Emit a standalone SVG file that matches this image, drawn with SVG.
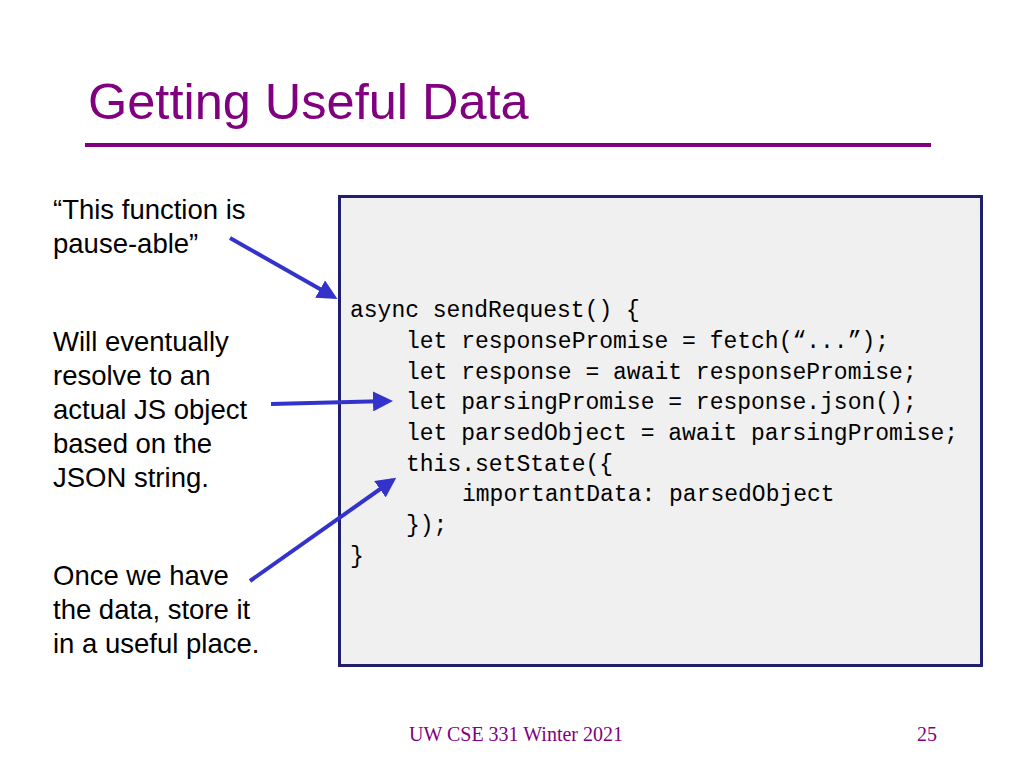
<svg xmlns="http://www.w3.org/2000/svg" width="1024" height="768" viewBox="0 0 1024 768">
<defs>
<marker id="ah" markerWidth="5" markerHeight="5" refX="4" refY="2.5" orient="auto" markerUnits="strokeWidth"><path d="M0,0 L5,2.5 L0,5 z" fill="#3333cc"/></marker>
<style>
.note{font-family:"Liberation Sans",Arial,sans-serif;font-size:27.5px;fill:#000}
.code{font-family:"Liberation Mono","DejaVu Sans Mono",monospace;font-size:23px;fill:#000}
.arr{stroke:#3333cc;stroke-width:4;fill:none;marker-end:url(#ah)}
</style>
</defs>
<rect width="1024" height="768" fill="#fff"/>
<text x="88" y="119" font-family="Liberation Sans,Arial,sans-serif" font-size="50.5" fill="#800080">Getting Useful Data</text>
<rect x="85" y="143" width="846" height="4" fill="#800080"/>
<g id="codebox">
<rect x="339.5" y="196.5" width="642" height="469" fill="#f0f0f0" stroke="#1f1f6e" stroke-width="3"/>
<text class="code" x="350" y="317">async sendRequest() {</text>
<text class="code" x="406" y="348">let responsePromise = fetch(“...”);</text>
<text class="code" x="406" y="379">let response = await responsePromise;</text>
<text class="code" x="406" y="409">let parsingPromise = response.json();</text>
<text class="code" x="406" y="440">let parsedObject = await parsingPromise;</text>
<text class="code" x="406" y="471">this.setState({</text>
<text class="code" x="462" y="501">importantData: parsedObject</text>
<text class="code" x="406" y="532">});</text>
<text class="code" x="350" y="563">}</text>
</g>
<g id="note1"><text class="note" x="53" y="219">“This function is</text><text class="note" x="53" y="253">pause-able”</text></g>
<g id="note2"><text class="note" x="53" y="351">Will eventually</text><text class="note" x="53" y="385">resolve to an</text><text class="note" x="53" y="419">actual JS object</text><text class="note" x="53" y="453">based on the</text><text class="note" x="53" y="487">JSON string.</text></g>
<g id="note3"><text class="note" x="53" y="585">Once we have</text><text class="note" x="53" y="619">the data, store it</text><text class="note" x="53" y="653">in a useful place.</text></g>
<g id="connectors">
<line class="arr" x1="230" y1="238" x2="334" y2="297"/>
<line class="arr" x1="271" y1="404" x2="389" y2="401"/>
<line class="arr" x1="250" y1="581" x2="393" y2="480"/>
</g>
<text x="516" y="741" text-anchor="middle" font-family="Liberation Serif,serif" font-size="20" fill="#800080">UW CSE 331 Winter 2021</text>
<text x="927" y="741" text-anchor="middle" font-family="Liberation Serif,serif" font-size="20" fill="#800080">25</text>
</svg>
